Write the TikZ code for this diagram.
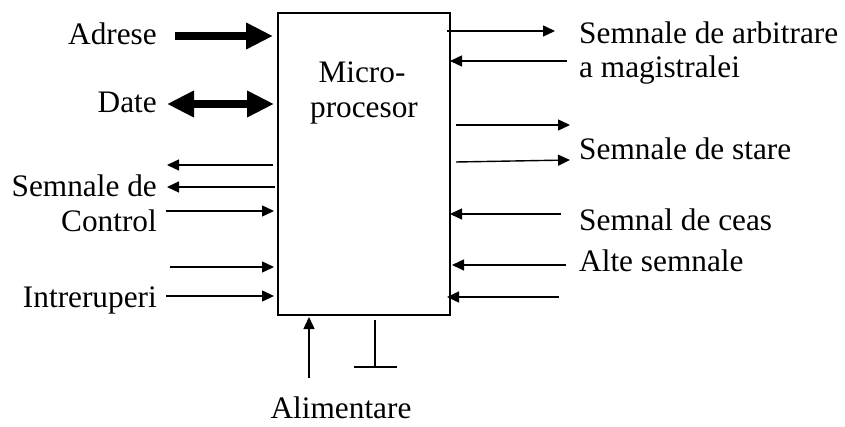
\documentclass[tikz,border=0pt]{standalone}
\usepackage{fontspec}
\setmainfont{Liberation Serif}
\usetikzlibrary{arrows.meta}
\begin{document}
\begin{tikzpicture}[x=1pt,y=-1pt,
  lbl/.style={inner sep=0pt,font=\fontsize{31.3}{36}\selectfont},
  arr/.style={line width=1.4pt,-{Triangle[length=12pt,width=11pt]}},
  fat/.style={line width=8pt,-{Triangle[length=27pt,width=25pt]}},
  fatboth/.style={line width=8pt,{Triangle[length=27pt,width=25pt]}-{Triangle[length=27pt,width=25pt]}},
  box/.style={draw,line width=2pt,minimum width=172pt,minimum height=302pt,inner sep=0pt}]
\useasboundingbox (0,0) rectangle (845,427);
\node[box] (mp) at (364,164) {};
\node[lbl,align=center,anchor=base] (t1) at (362,83) {Micro-};
\node[lbl,align=center,anchor=base] (t2) at (364,118) {procesor};
% left labels
\node[lbl,anchor=base east] (adr) at (157,45) {Adrese};
\node[lbl,anchor=base east] (dat) at (157,113) {Date};
\node[lbl,anchor=base east] (sc1) at (157,197) {Semnale de};
\node[lbl,anchor=base east] (sc2) at (157,232) {Control};
\node[lbl,anchor=base east] (intr) at (157,308) {Intreruperi};
% right labels
\node[lbl,anchor=base west] (arb1) at (579,44) {Semnale de arbitrare};
\node[lbl,anchor=base west] (arb2) at (579,78) {a magistralei};
\node[lbl,anchor=base west] (st) at (579,160) {Semnale de stare};
\node[lbl,anchor=base west] (ceas) at (579,231) {Semnal de ceas};
\node[lbl,anchor=base west] (alte) at (579,272) {Alte semnale};
\node[lbl,anchor=base] (alim) at (341,418) {Alimentare};
% coordinates
\coordinate (a0) at (175,36); \coordinate (a1) at (273,36);
\coordinate (d0) at (167,104); \coordinate (d1) at (274,104);
\coordinate (l1a) at (273,165); \coordinate (l1b) at (167,165);
\coordinate (l2a) at (275,187); \coordinate (l2b) at (167,187);
\coordinate (l3a) at (166,211); \coordinate (l3b) at (274,211);
\coordinate (l4a) at (170,267); \coordinate (l4b) at (274,267);
\coordinate (l5a) at (166,296); \coordinate (l5b) at (274,296);
\coordinate (r1a) at (447,31); \coordinate (r1b) at (555,31);
\coordinate (r2a) at (567,61); \coordinate (r2b) at (450,61);
\coordinate (r3a) at (456,125); \coordinate (r3b) at (570,125);
\coordinate (r4a) at (456,162); \coordinate (r4b) at (570,160);
\coordinate (r5a) at (561,214); \coordinate (r5b) at (450,214);
\coordinate (r6a) at (566,265); \coordinate (r6b) at (452,265);
\coordinate (r7a) at (559,297); \coordinate (r7b) at (447,297);
\coordinate (p0) at (309,378); \coordinate (p1) at (309,317);
\coordinate (g0) at (375,320); \coordinate (g1) at (375,367);
\coordinate (g2) at (354,367); \coordinate (g3) at (397,367);
\draw[fat] (a0) -- (a1);
\draw[fatboth] (d0) -- (d1);
\foreach \s/\e in {l1a/l1b,l2a/l2b,l3a/l3b,l4a/l4b,l5a/l5b,r1a/r1b,r2a/r2b,r3a/r3b,r4a/r4b,r5a/r5b,r6a/r6b,r7a/r7b,p0/p1}
  \draw[arr] (\s) -- (\e);
\draw[line width=1.4pt] (g0) -- (g1) (g2) -- (g3);
\end{tikzpicture}
\end{document}
